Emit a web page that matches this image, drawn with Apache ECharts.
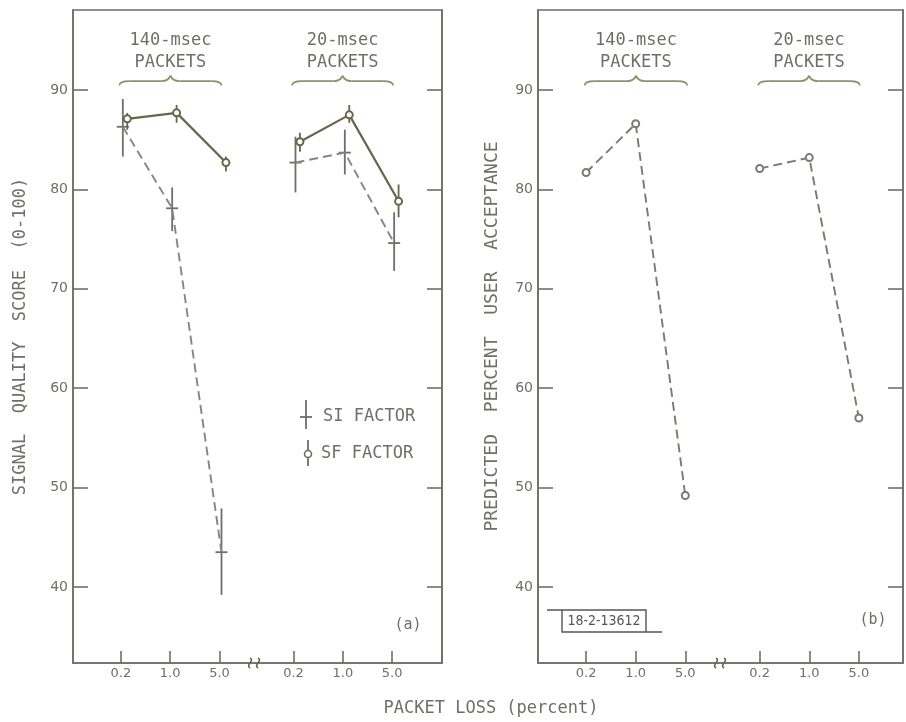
<!DOCTYPE html>
<html>
<head>
<meta charset="utf-8">
<title>Packet loss: signal quality and predicted user acceptance</title>
<script src="https://cdn.jsdelivr.net/npm/echarts@6/dist/echarts.min.js"></script>
<style>
  html, body { margin: 0; padding: 0; background: #fff; }
  #chart { width: 906px; height: 722px; }
</style>
</head>
<body>
<div id="chart"></div>
<script>
// x positions: 140-msec group then 20-msec group, with a break between them
const lossLabels = ['0.2', '1.0', '5.0'];
const lossPositions = [1, 2, 3, 4.5, 5.5, 6.5];
const packetGroups = ['140-msec', '20-msec'];
const groupSpans = [[0.97, 3.04], [4.47, 6.52]];
const yTicks = [40, 50, 60, 70, 80, 90];

// (a) signal quality score, mean and error bar ends
const siScore = [86.3, 78.1, 43.5, 82.7, 83.7, 74.6];
const siLow = [83.3, 75.8, 39.2, 79.7, 81.5, 71.8];
const siHigh = [89.1, 80.2, 47.9, 85.3, 86.0, 77.7];
const sfScore = [87.1, 87.7, 82.7, 84.8, 87.5, 78.8];
const sfLow = [86.0, 86.7, 81.8, 83.8, 86.7, 77.2];
const sfHigh = [87.7, 88.5, 83.3, 85.7, 88.5, 80.5];

// (b) predicted percent user acceptance
const acceptance = [81.7, 86.6, 49.2, 82.1, 83.2, 57.0];

const INK = '#6e6e6a';
const OLIVE = '#66664c';
const BRACE = '#8f8f68';
const FONT = 'DejaVu Sans Mono'; // stencil lettering is close to monospaced
const TICK_FONT = 'DejaVu Sans';
const Y_MIN = 32.35;
const Y_MAX = 98.05;
const SI_SHIFT = 0.04;
const SF_SHIFT = 0.13;

const chart = echarts.init(document.getElementById('chart'), null, { renderer: 'canvas' });

function points(values, shift, from) {
  return values.slice(from, from + 3).map((v, i) => [lossPositions[from + i] + shift, v]);
}

function yAxisFor(gridIndex, side) {
  return {
    type: 'value',
    gridIndex,
    position: side,
    min: Y_MIN,
    max: Y_MAX,
    splitLine: { show: false },
    axisLine: { show: true, lineStyle: { color: INK, width: 1.6 } },
    axisTick: { show: true, inside: true, length: 15, customValues: yTicks, lineStyle: { color: INK, width: 1.6 } },
    axisLabel: {
      show: side === 'left',
      customValues: yTicks,
      margin: 5,
      color: INK,
      fontSize: 14,
      fontFamily: TICK_FONT,
    },
  };
}

function xAxisFor(gridIndex, max) {
  return {
    type: 'value',
    gridIndex,
    min: 0.03,
    max,
    splitLine: { show: false },
    axisLine: { show: true, lineStyle: { color: INK, width: 1.6 } },
    axisTick: { show: true, inside: true, length: 12, customValues: lossPositions, lineStyle: { color: INK, width: 1.6 } },
    axisLabel: {
      customValues: lossPositions,
      formatter: (v) => lossLabels[lossPositions.indexOf(v) % 3],
      margin: 4,
      color: INK,
      fontSize: 13,
      fontFamily: TICK_FONT,
    },
  };
}

function errorBars(score, low, high, shift, withPlus, color) {
  return {
    type: 'custom',
    xAxisIndex: 0,
    yAxisIndex: 0,
    silent: true,
    data: score.map((v, i) => [lossPositions[i] + shift, v, low[i], high[i]]),
    renderItem: (params, api) => {
      const mid = api.coord([api.value(0), api.value(1)]);
      const lo = api.coord([api.value(0), api.value(2)]);
      const hi = api.coord([api.value(0), api.value(3)]);
      const style = { stroke: color, lineWidth: 1.8 };
      const children = [{ type: 'line', shape: { x1: lo[0], y1: lo[1], x2: hi[0], y2: hi[1] }, style }];
      if (withPlus) {
        children.push({ type: 'line', shape: { x1: mid[0] - 6, y1: mid[1], x2: mid[0] + 6, y2: mid[1] }, style });
      }
      return { type: 'group', children };
    },
  };
}

function braces(axisIndex) {
  return {
    type: 'custom',
    xAxisIndex: axisIndex,
    yAxisIndex: axisIndex * 2,
    silent: true,
    clip: false,
    data: groupSpans.map((span, i) => [span[0], span[1], i]),
    renderItem: (params, api) => {
      const x0 = api.coord([api.value(0), 90])[0];
      const x1 = api.coord([api.value(1), 90])[0];
      const xm = (x0 + x1) / 2;
      const yb = api.coord([0, 90.45])[1];
      const yt = api.coord([0, 90.9])[1];
      const ytip = api.coord([0, 91.45])[1];
      const yName = api.coord([0, 95.0])[1];
      const yPackets = api.coord([0, 92.8])[1];
      const style = { stroke: BRACE, lineWidth: 1.7, fill: null };
      const curve = (a, b, c) => ({
        type: 'bezierCurve',
        shape: { x1: a[0], y1: a[1], cpx1: b[0], cpy1: b[1], x2: c[0], y2: c[1] },
        style,
      });
      const text = (t, y) => ({
        type: 'text',
        style: { text: t, x: xm, y, align: 'center', verticalAlign: 'middle', fill: INK, font: `17px "${FONT}"` },
      });
      return {
        type: 'group',
        children: [
          curve([x0, yb], [x0, yt], [x0 + 10, yt]),
          { type: 'line', shape: { x1: x0 + 10, y1: yt, x2: xm - 9, y2: yt }, style },
          curve([xm - 9, yt], [xm - 2, yt], [xm, ytip]),
          curve([xm, ytip], [xm + 2, yt], [xm + 9, yt]),
          { type: 'line', shape: { x1: xm + 9, y1: yt, x2: x1 - 10, y2: yt }, style },
          curve([x1 - 10, yt], [x1, yt], [x1, yb]),
          text(packetGroups[api.value(2)], yName),
          text('PACKETS', yPackets),
        ],
      };
    },
  };
}

function axisBreak(axisIndex) {
  return {
    type: 'custom',
    xAxisIndex: axisIndex,
    yAxisIndex: axisIndex * 2,
    silent: true,
    clip: false,
    z: 5,
    data: [[3.7, Y_MIN]],
    renderItem: (params, api) => {
      const p = api.coord([api.value(0), api.value(1)]);
      const wave = (cx) => ({
        type: 'bezierCurve',
        shape: { x1: cx, y1: p[1] - 5, cpx1: cx + 5, cpy1: p[1] - 2, cpx2: cx - 5, cpy2: p[1] + 2, x2: cx, y2: p[1] + 5 },
        style: { stroke: OLIVE, lineWidth: 1.6, fill: null },
      });
      return { type: 'group', children: [wave(p[0] - 4), wave(p[0] + 4)] };
    },
  };
}

function lineSeries(axisIndex, data, color, dashed, symbol) {
  return {
    type: 'line',
    xAxisIndex: axisIndex,
    yAxisIndex: axisIndex * 2,
    data,
    symbol,
    symbolSize: 7,
    showSymbol: symbol !== 'none',
    animation: false,
    lineStyle: { color, width: dashed ? 1.9 : 2.2, type: dashed ? [9, 5] : 'solid' },
    itemStyle: { color, borderColor: color, borderWidth: 1.6 },
  };
}

const textStyle = (size) => ({ fill: INK, font: `${size}px "${FONT}"` });

chart.setOption({
  animation: false,
  backgroundColor: '#ffffff',
  grid: [
    { left: 73, top: 10, width: 369, height: 653, show: true, borderColor: INK, borderWidth: 1.6 },
    { left: 538, top: 10, width: 365, height: 653, show: true, borderColor: INK, borderWidth: 1.6 },
  ],
  xAxis: [xAxisFor(0, 7.51), xAxisFor(1, 7.39)],
  yAxis: [
    Object.assign(yAxisFor(0, 'left'), {
      name: 'SIGNAL  QUALITY  SCORE  (0-100)',
      nameLocation: 'middle',
      nameGap: 44,
      nameRotate: 90,
      nameTextStyle: { color: INK, fontSize: 17, fontFamily: FONT },
    }),
    yAxisFor(0, 'right'),
    Object.assign(yAxisFor(1, 'left'), {
      name: 'PREDICTED  PERCENT  USER  ACCEPTANCE',
      nameLocation: 'middle',
      nameGap: 37,
      nameRotate: 90,
      nameTextStyle: { color: INK, fontSize: 18, fontFamily: FONT },
    }),
    yAxisFor(1, 'right'),
  ],
  graphic: [
    // legend of panel (a)
    { type: 'line', shape: { x1: 306, y1: 400, x2: 306, y2: 429 }, style: { stroke: INK, lineWidth: 1.8 } },
    { type: 'line', shape: { x1: 300, y1: 417, x2: 312, y2: 417 }, style: { stroke: INK, lineWidth: 1.8 } },
    { type: 'text', style: Object.assign({ text: 'SI FACTOR', x: 323, y: 417, verticalAlign: 'middle' }, textStyle(17)) },
    { type: 'line', shape: { x1: 308, y1: 440, x2: 308, y2: 466 }, style: { stroke: INK, lineWidth: 1.8 } },
    { type: 'circle', shape: { cx: 308, cy: 454, r: 3.5 }, style: { fill: '#fff', stroke: INK, lineWidth: 1.6 } },
    { type: 'text', style: Object.assign({ text: 'SF FACTOR', x: 321, y: 454, verticalAlign: 'middle' }, textStyle(17)) },
    { type: 'text', style: Object.assign({ text: '(a)', x: 408, y: 625, align: 'center', verticalAlign: 'middle' }, textStyle(15)) },
    { type: 'text', style: Object.assign({ text: '(b)', x: 873, y: 620, align: 'center', verticalAlign: 'middle' }, textStyle(15)) },
    // drawing number stamp
    { type: 'polyline', shape: { points: [[547, 610], [646, 610], [646, 632]] }, style: { stroke: '#555', lineWidth: 1.4, fill: null } },
    { type: 'polyline', shape: { points: [[562, 610], [562, 632], [662, 632]] }, style: { stroke: '#555', lineWidth: 1.4, fill: null } },
    { type: 'text', style: { text: '18-2-13612', x: 604, y: 621, align: 'center', verticalAlign: 'middle', fill: '#555', font: '14px "DejaVu Sans Condensed", "Liberation Sans Narrow", sans-serif' } },
    // shared x title
    { type: 'text', style: Object.assign({ text: 'PACKET LOSS (percent)', x: 491, y: 709, align: 'center', verticalAlign: 'middle' }, textStyle(17)) },
  ],
  series: [
    errorBars(siScore, siLow, siHigh, SI_SHIFT, true, INK),
    errorBars(sfScore, sfLow, sfHigh, SF_SHIFT, false, OLIVE),
    lineSeries(0, points(siScore, SI_SHIFT, 0), '#858585', true, 'none'),
    lineSeries(0, points(siScore, SI_SHIFT, 3), '#858585', true, 'none'),
    lineSeries(0, points(sfScore, SF_SHIFT, 0), OLIVE, false, 'emptyCircle'),
    lineSeries(0, points(sfScore, SF_SHIFT, 3), OLIVE, false, 'emptyCircle'),
    lineSeries(1, points(acceptance, 0, 0), '#7a7a72', true, 'emptyCircle'),
    lineSeries(1, points(acceptance, 0, 3), '#7a7a72', true, 'emptyCircle'),
    braces(0),
    braces(1),
    axisBreak(0),
    axisBreak(1),
  ],
});

window.addEventListener('resize', () => chart.resize());
</script>
</body>
</html>
